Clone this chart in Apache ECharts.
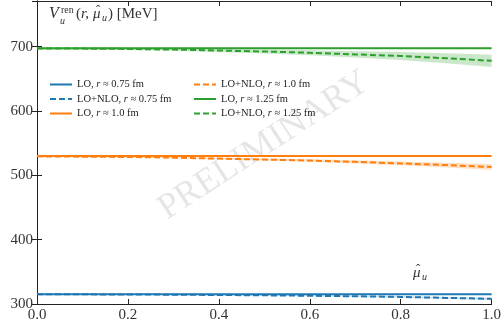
<!DOCTYPE html>
<html>
<head>
<meta charset="utf-8">
<script src="https://cdn.jsdelivr.net/npm/echarts@6/dist/echarts.min.js"></script>
<style>
  html, body { margin: 0; padding: 0; background: #fff; }
  #chart { width: 504px; height: 329px; }
</style>
</head>
<body>
<div id="chart"></div>
<script>
// mu hat grid
const mu = [0.0, 0.1, 0.2, 0.3, 0.4, 0.5, 0.6, 0.7, 0.8, 0.9, 1.0];
// LO (flat) values per r
const loValues = { r075: 315, r100: 530, r125: 697.5 };
// LO+NLO central values
const nlo075 = [315, 315, 314.8, 314.5, 314, 313.5, 312.8, 312, 311, 309.5, 308];
const nlo100 = [529.5, 529, 528.5, 527.5, 526, 524.5, 523, 521, 518.5, 516, 513];
const nlo125 = [697, 697, 696.5, 695.5, 694, 692.5, 690.5, 688, 685.5, 682, 678];
// half widths of the error bands
const err075 = [0.5, 0.5, 0.5, 0.6, 0.7, 0.8, 0.9, 1.0, 1.2, 1.4, 1.6];
const err100 = [0.8, 0.8, 0.9, 1.0, 1.3, 1.6, 2.0, 2.5, 3.0, 3.7, 4.5];
const err125 = [1.5, 1.5, 1.7, 2.0, 2.5, 3.2, 4.0, 5.0, 6.2, 7.7, 9.5];
const yTicks = [300, 400, 500, 600, 700];
const xTicks = [0.0, 0.2, 0.4, 0.6, 0.8, 1.0];

const blue = "#1f77b4", orange = "#ff7f0e", green = "#2ca02c";
const serif = "Liberation Serif";

const myChart = echarts.init(document.getElementById("chart"));

const pairs = (vals) => mu.map((x, i) => [x, vals[i]]);
const flat = (v) => mu.map((x) => [x, v]);

// error band as one polygon, built through the axes with api.coord
function band(key, central, err, color) {
  const rows = mu.map((x, i) => [x, central[i] - err[i], central[i] + err[i]]);
  return {
    name: key, type: "custom", silent: true, clip: true, z: 1,
    data: rows,
    renderItem: (params, api) => {
      if (params.dataIndex !== 0) return null;
      const upper = rows.map((r) => api.coord([r[0], r[2]]));
      const lower = rows.map((r) => api.coord([r[0], r[1]])).reverse();
      return {
        type: "polygon",
        shape: { points: upper.concat(lower) },
        style: { fill: color, opacity: 0.25 },
      };
    },
  };
}

function lo(name, v, color) {
  return {
    name: name, type: "line", symbol: "none", data: flat(v),
    lineStyle: { color: color, width: 2 }, itemStyle: { color: color }, z: 3,
  };
}
function nlo(name, vals, color) {
  return {
    name: name, type: "line", symbol: "none", data: pairs(vals),
    lineStyle: { color: color, width: 2, type: [6, 3] }, itemStyle: { color: color }, z: 3,
  };
}

const names = [
  "LO, r ≈ 0.75 fm", "LO+NLO, r ≈ 0.75 fm", "LO, r ≈ 1.0 fm",
  "LO+NLO, r ≈ 1.0 fm", "LO, r ≈ 1.25 fm", "LO+NLO, r ≈ 1.25 fm",
];

const legendText = {
  fontFamily: serif, fontSize: 10.5, color: "#222",
  rich: { i: { fontFamily: serif, fontStyle: "italic", fontSize: 10.5, color: "#222" } },
};
const legendFmt = (n) => n.replace(", r", ", {i|r}");
const legendBase = {
  orient: "vertical", top: 79, itemWidth: 22, itemHeight: 10, itemGap: 3.5, padding: 0,
  itemStyle: { opacity: 0 }, textStyle: legendText, formatter: legendFmt,
};

const axisLine = { show: true, lineStyle: { color: "#222", width: 1 } };
const tick = { show: true, inside: true, length: 5, lineStyle: { color: "#222" } };

const option = {
  animation: false,
  grid: { left: 37, right: 8, top: 1, bottom: 25 },
  legend: [
    Object.assign({ data: names.slice(0, 3), left: 49 }, legendBase),
    Object.assign({ data: names.slice(3), left: 193 }, legendBase),
  ],
  xAxis: [
    {
      type: "value", min: 0, max: 1, interval: 0.2,
      axisLine: axisLine, axisTick: tick, splitLine: { show: false },
      axisLabel: {
        fontFamily: serif, fontSize: 15, color: "#333", margin: 4,
        formatter: (v) => (xTicks.some((t) => Math.abs(t - v) < 1e-6) ? v.toFixed(1) : ""),
      },
    },
    {
      type: "value", position: "top", min: 0, max: 1, interval: 0.2,
      axisLine: axisLine, axisTick: tick, axisLabel: { show: false }, splitLine: { show: false },
    },
  ],
  yAxis: [
    {
      type: "value", min: 300, max: 771, interval: 100,
      axisLine: axisLine, axisTick: tick, splitLine: { show: false },
      axisLabel: {
        fontFamily: serif, fontSize: 15, color: "#333", margin: 4, showMaxLabel: false,
        formatter: (v) => (yTicks.includes(v) ? String(v) : ""),
      },
    },
    {
      type: "value", position: "right", min: 300, max: 771, interval: 100,
      axisLine: axisLine, axisTick: tick, axisLabel: { show: false }, splitLine: { show: false },
    },
  ],
  graphic: [
    { type: "text", left: 152, top: 64, rotation: 33 * Math.PI / 180, z: 0, silent: true,
      style: { text: "PRELIMINARY", font: "36px 'Liberation Serif'", fill: "rgba(0,0,0,0.1)" } },
    // y label V_u^ren(r, mu_u) [MeV]
    { type: "text", x: 49, y: 6, style: { text: "V", font: "italic 16px 'Liberation Serif'", fill: "#333" } },
    { type: "text", x: 61, y: 5, style: { text: "ren", font: "10px 'Liberation Serif'", fill: "#333" } },
    { type: "text", x: 60, y: 16, style: { text: "u", font: "italic 10px 'Liberation Serif'", fill: "#333" } },
    { type: "text", x: 76, y: 7, style: { text: "(", font: "15px 'Liberation Serif'", fill: "#333" } },
    { type: "text", x: 81, y: 7, style: { text: "r,", font: "italic 15px 'Liberation Serif'", fill: "#333" } },
    { type: "text", x: 93, y: 7, style: { text: "μ", font: "italic 15px 'Liberation Serif'", fill: "#333" } },
    { type: "text", x: 96, y: 4, style: { text: "ˆ", font: "13px 'Liberation Serif'", fill: "#333" } },
    { type: "text", x: 102, y: 13, style: { text: "u", font: "italic 10px 'Liberation Serif'", fill: "#333" } },
    { type: "text", x: 108, y: 7, style: { text: ") [MeV]", font: "15px 'Liberation Serif'", fill: "#333" } },
    // x label mu_u
    { type: "text", x: 413, y: 266, style: { text: "μ", font: "italic 15px 'Liberation Serif'", fill: "#333" } },
    { type: "text", x: 416, y: 263, style: { text: "ˆ", font: "13px 'Liberation Serif'", fill: "#333" } },
    { type: "text", x: 422, y: 272, style: { text: "u", font: "italic 10px 'Liberation Serif'", fill: "#333" } },
  ],
  series: [
    band("b075", nlo075, err075, blue),
    band("b100", nlo100, err100, orange),
    band("b125", nlo125, err125, green),
    lo(names[0], loValues.r075, blue),
    nlo(names[1], nlo075, blue),
    lo(names[2], loValues.r100, orange),
    nlo(names[3], nlo100, orange),
    lo(names[4], loValues.r125, green),
    nlo(names[5], nlo125, green),
  ],
};
myChart.setOption(option);
</script>
</body>
</html>
